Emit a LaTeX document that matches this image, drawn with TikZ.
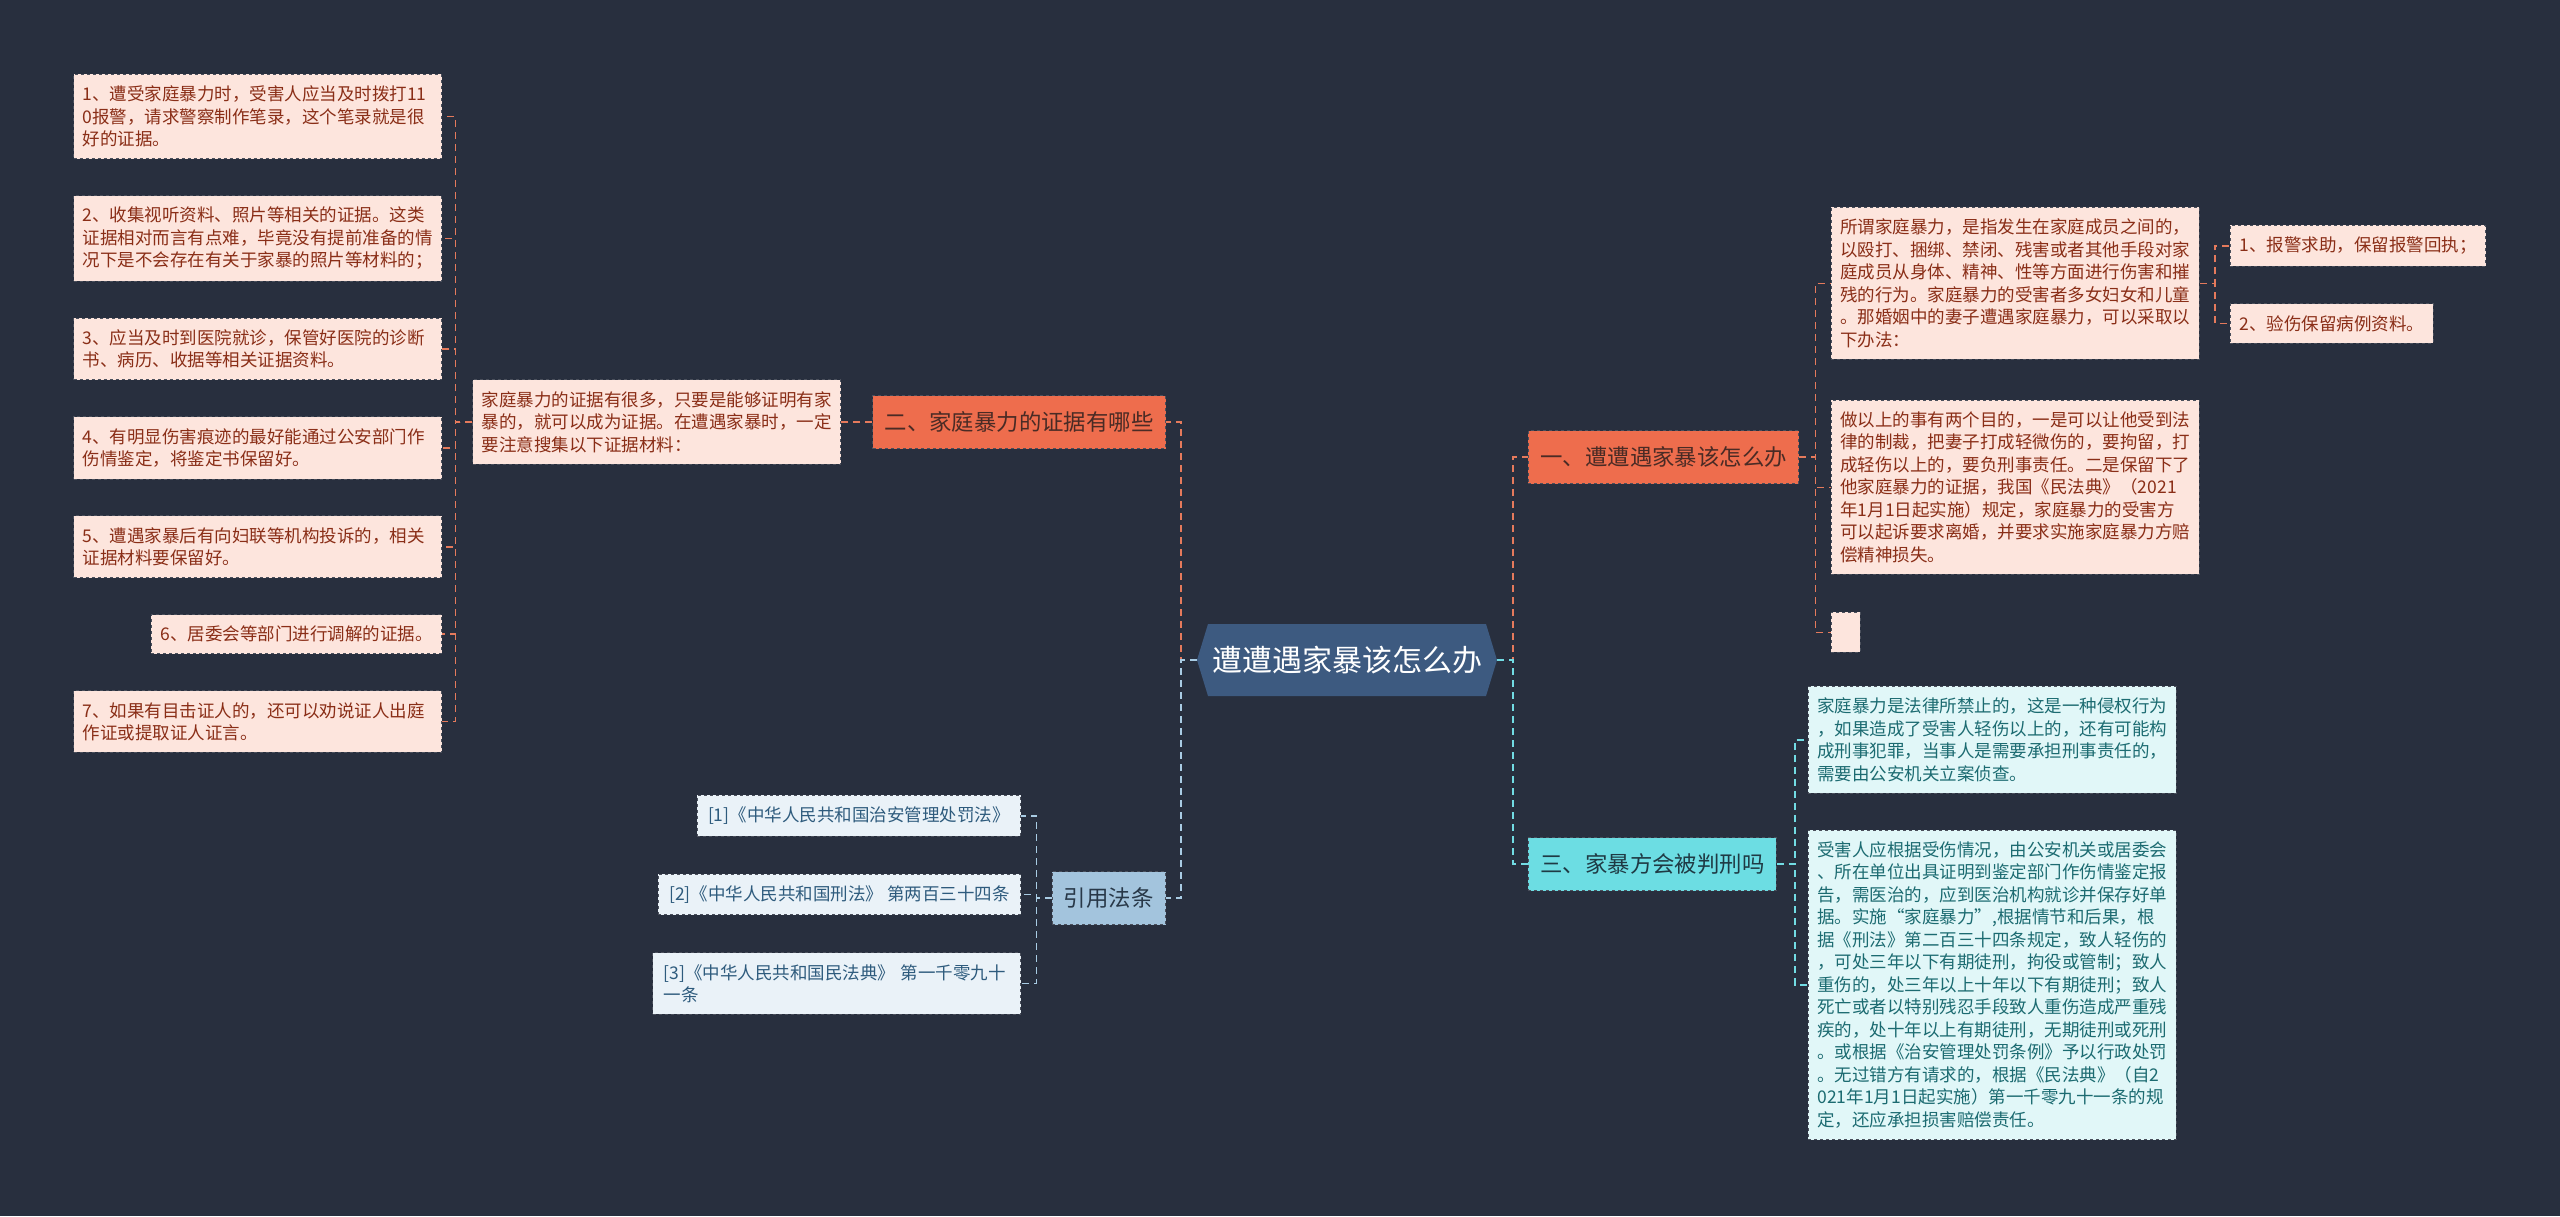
\documentclass[tikz,border=0pt]{standalone}
\usepackage{fontspec}
\setmainfont{Noto Sans CJK SC}
\usepackage{xcolor}
\definecolor{bgNavy}{HTML}{282F3E}
\definecolor{hubBlue}{HTML}{3D5A80}
\definecolor{brOrange}{HTML}{EE6D4D}
\definecolor{lnOrange}{HTML}{E57A5C}
\definecolor{leafPink}{HTML}{FDE5DD}
\definecolor{txtPink}{HTML}{8A2E17}
\definecolor{txtDark}{HTML}{4A2B25}
\definecolor{brCyan}{HTML}{6CDDE3}
\definecolor{lnCyan}{HTML}{72DCE4}
\definecolor{leafCyan}{HTML}{E1F7F8}
\definecolor{txtCyan}{HTML}{1C6B71}
\definecolor{txtTeal}{HTML}{1F3A44}
\definecolor{brSky}{HTML}{A3C4DD}
\definecolor{lnSky}{HTML}{A9CCE4}
\definecolor{leafSky}{HTML}{EAF2F8}
\definecolor{txtSky}{HTML}{2E5B7D}
\definecolor{txtNavy}{HTML}{283848}
\definecolor{edgeGrey}{HTML}{4B505C}
\usepackage{tikz}
\usetikzlibrary{positioning, shapes.symbols}

\begin{document}
\begin{tikzpicture}[
  x=1pt, y=-1pt,
  hub/.style={signal, signal to=east and west, signal pointer angle=146, fill=hubBlue, text=white, minimum width=300pt, minimum height=72pt, inner sep=0pt, font=\fontsize{30}{36}\selectfont},
  branch/.style={draw=edgeGrey, dashed, line width=0.9pt, inner xsep=12pt, inner ysep=0pt, minimum height=53pt, font=\fontsize{22.4}{26}\selectfont},
  leaf/.style={draw=edgeGrey, dashed, line width=0.9pt, inner xsep=9pt, inner ysep=11.5pt, align=left, font=\fontsize{17.5}{22.5}\selectfont},
  wide/.style={text width=350pt},
  pinkleaf/.style={leaf, fill=leafPink, text=txtPink},
  cyanleaf/.style={leaf, fill=leafCyan, text=txtCyan},
  skyleaf/.style={leaf, fill=leafSky, text=txtSky, inner xsep=11pt},
  link/.style={line width=1.6pt, dash pattern=on 7pt off 5pt},
]
  \fill[bgNavy] (0,0) rectangle (2560,1216);
  \useasboundingbox (0,0) rectangle (2560,1216);

  \node[hub] (hub) at (1347,660) {遭遭遇家暴该怎么办};

  \node[branch, fill=brOrange, text=txtDark, anchor=east] (evid) at (1166,422) {二、家庭暴力的证据有哪些};
  \node[pinkleaf, wide, left=31pt of evid] (evidIntro) {家庭暴力的证据有很多，只要是能够证明有家\\暴的，就可以成为证据。在遭遇家暴时，一定\\要注意搜集以下证据材料：};
  \node[pinkleaf, wide, anchor=north east] (ev1) at (442,74) {1、遭受家庭暴力时，受害人应当及时拨打11\\0报警，请求警察制作笔录，这个笔录就是很\\好的证据。};
  \node[pinkleaf, wide, below left=36pt and 0pt of ev1.south east] (ev2) {2、收集视听资料、照片等相关的证据。这类\\证据相对而言有点难，毕竟没有提前准备的情\\况下是不会存在有关于家暴的照片等材料的；};
  \node[pinkleaf, wide, below left=36pt and 0pt of ev2.south east] (ev3) {3、应当及时到医院就诊，保管好医院的诊断\\书、病历、收据等相关证据资料。};
  \node[pinkleaf, wide, below left=36pt and 0pt of ev3.south east] (ev4) {4、有明显伤害痕迹的最好能通过公安部门作\\伤情鉴定，将鉴定书保留好。};
  \node[pinkleaf, wide, below left=36pt and 0pt of ev4.south east] (ev5) {5、遭遇家暴后有向妇联等机构投诉的，相关\\证据材料要保留好。};
  \node[pinkleaf, below left=36pt and 0pt of ev5.south east] (ev6) {6、居委会等部门进行调解的证据。};
  \node[pinkleaf, wide, below left=36pt and 0pt of ev6.south east] (ev7) {7、如果有目击证人的，还可以劝说证人出庭\\作证或提取证人证言。};

  \node[branch, fill=brOrange, text=txtDark, anchor=west] (cope) at (1528,457) {一、遭遭遇家暴该怎么办};
  \node[pinkleaf, wide, anchor=north west] (copeDef) at (1831,207) {所谓家庭暴力，是指发生在家庭成员之间的，\\以殴打、捆绑、禁闭、残害或者其他手段对家\\庭成员从身体、精神、性等方面进行伤害和摧\\残的行为。家庭暴力的受害者多女妇女和儿童\\。那婚姻中的妻子遭遇家庭暴力，可以采取以\\下办法：};
  \node[pinkleaf, wide, below right=40pt and 0pt of copeDef.south west] (copeAim) {做以上的事有两个目的，一是可以让他受到法\\律的制裁，把妻子打成轻微伤的，要拘留，打\\成轻伤以上的，要负刑事责任。二是保留下了\\他家庭暴力的证据，我国《民法典》（2021\\年1月1日起实施）规定，家庭暴力的受害方\\可以起诉要求离婚，并要求实施家庭暴力方赔\\偿精神损失。};
  \node[pinkleaf, minimum width=29pt, minimum height=40pt, below right=37pt and 0pt of copeAim.south west] (copeNil) {};
  \node[pinkleaf, anchor=north west] (step1) at (2230,225) {1、报警求助，保留报警回执；};
  \node[pinkleaf, below right=37pt and 0pt of step1.south west] (step2) {2、验伤保留病例资料。};

  \node[branch, fill=brCyan, text=txtTeal, anchor=west] (judge) at (1528,864) {三、家暴方会被判刑吗};
  \node[cyanleaf, wide, anchor=north west] (judge1) at (1808,686) {家庭暴力是法律所禁止的，这是一种侵权行为\\，如果造成了受害人轻伤以上的，还有可能构\\成刑事犯罪，当事人是需要承担刑事责任的，\\需要由公安机关立案侦查。};
  \node[cyanleaf, wide, below right=36pt and 0pt of judge1.south west] (judge2) {受害人应根据受伤情况，由公安机关或居委会\\、所在单位出具证明到鉴定部门作伤情鉴定报\\告，需医治的，应到医治机构就诊并保存好单\\据。实施“家庭暴力”,根据情节和后果，根\\据《刑法》第二百三十四条规定，致人轻伤的\\，可处三年以下有期徒刑，拘役或管制；致人\\重伤的，处三年以上十年以下有期徒刑；致人\\死亡或者以特别残忍手段致人重伤造成严重残\\疾的，处十年以上有期徒刑，无期徒刑或死刑\\。或根据《治安管理处罚条例》予以行政处罚\\。无过错方有请求的，根据《民法典》（自2\\021年1月1日起实施）第一千零九十一条的规\\定，还应承担损害赔偿责任。};

  \node[branch, fill=brSky, text=txtNavy, anchor=east] (laws) at (1166,898) {引用法条};
  \node[skyleaf, anchor=north east] (law1) at (1021,795) {[1]《中华人民共和国治安管理处罚法》};
  \node[skyleaf, below left=37pt and 0pt of law1.south east] (law2) {[2]《中华人民共和国刑法》 第两百三十四条};
  \node[skyleaf, text width=346pt, below left=37pt and 0pt of law2.south east] (law3) {[3]《中华人民共和国民法典》 第一千零九十\\一条};

  \draw[link, lnOrange] (hub.west) -- ++(-16,0) |- (evid.east);
  \draw[link, lnSky] (hub.west) -- ++(-16,0) |- (laws.east);
  \draw[link, lnOrange] (hub.east) -- ++(16,0) |- (cope.west);
  \draw[link, lnCyan] (hub.east) -- ++(16,0) |- (judge.west);
  \draw[link, lnOrange] (evid.west) -- (evidIntro.east);
  \foreach \n in {ev1,ev2,ev3,ev4,ev5,ev6,ev7}
    \draw[link, lnOrange] (evidIntro.west) -- ++(-17,0) |- (\n.east);
  \foreach \n in {copeDef,copeAim,copeNil}
    \draw[link, lnOrange] (cope.east) -- ++(16,0) |- (\n.west);
  \foreach \n in {step1,step2}
    \draw[link, lnOrange] (copeDef.east) -- ++(15,0) |- (\n.west);
  \foreach \n in {judge1,judge2}
    \draw[link, lnCyan] (judge.east) -- ++(18,0) |- (\n.west);
  \foreach \n in {law1,law2,law3}
    \draw[link, lnSky] (laws.west) -- ++(-15,0) |- (\n.east);
\end{tikzpicture}
\end{document}
